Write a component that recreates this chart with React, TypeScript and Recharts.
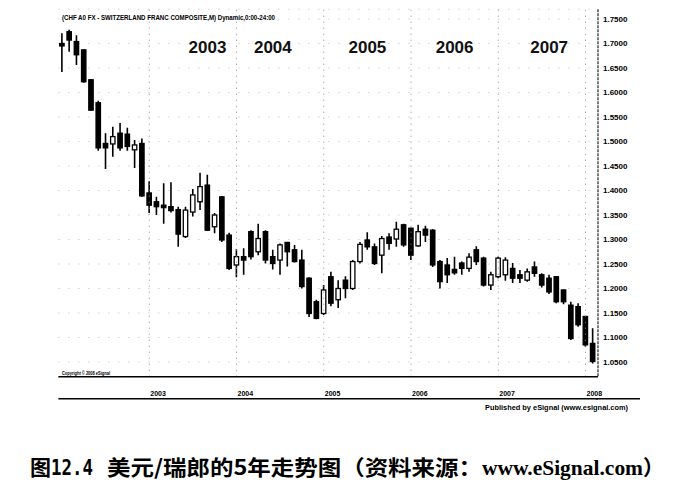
import React from 'react';
import {
  ComposedChart,
  Bar,
  XAxis,
  YAxis,
  CartesianGrid,
  ReferenceLine,
  ReferenceDot,
} from 'recharts';

const months = [
  '2002-01', '2002-02', '2002-03', '2002-04', '2002-05', '2002-06', '2002-07', '2002-08', '2002-09', '2002-10', '2002-11', '2002-12',
  '2003-01', '2003-02', '2003-03', '2003-04', '2003-05', '2003-06', '2003-07', '2003-08', '2003-09', '2003-10', '2003-11', '2003-12',
  '2004-01', '2004-02', '2004-03', '2004-04', '2004-05', '2004-06', '2004-07', '2004-08', '2004-09', '2004-10', '2004-11', '2004-12',
  '2005-01', '2005-02', '2005-03', '2005-04', '2005-05', '2005-06', '2005-07', '2005-08', '2005-09', '2005-10', '2005-11', '2005-12',
  '2006-01', '2006-02', '2006-03', '2006-04', '2006-05', '2006-06', '2006-07', '2006-08', '2006-09', '2006-10', '2006-11', '2006-12',
  '2007-01', '2007-02', '2007-03', '2007-04', '2007-05', '2007-06', '2007-07', '2007-08', '2007-09', '2007-10', '2007-11', '2007-12',
  '2008-01', '2008-02',
];

const opens = [
  1.700, 1.724, 1.704, 1.687, 1.626, 1.579, 1.496, 1.495, 1.517, 1.515, 1.483, 1.496,
  1.395, 1.377, 1.370, 1.367, 1.361, 1.306, 1.356, 1.377, 1.411, 1.326, 1.387, 1.309,
  1.248, 1.265, 1.316, 1.275, 1.316, 1.265, 1.258, 1.294, 1.279, 1.258, 1.221, 1.173,
  1.149, 1.224, 1.177, 1.217, 1.200, 1.255, 1.299, 1.285, 1.268, 1.305, 1.301, 1.330,
  1.323, 1.287, 1.321, 1.319, 1.255, 1.248, 1.239, 1.252, 1.241, 1.279, 1.262, 1.207,
  1.224, 1.228, 1.241, 1.228, 1.217, 1.244, 1.228, 1.221, 1.224, 1.197, 1.166, 1.163,
  1.143, 1.088,
];

const highs = [
  1.721, 1.728, 1.717, 1.688, 1.627, 1.583, 1.517, 1.530, 1.538, 1.528, 1.503, 1.506,
  1.419, 1.387, 1.415, 1.417, 1.367, 1.367, 1.403, 1.436, 1.432, 1.354, 1.389, 1.314,
  1.280, 1.282, 1.319, 1.332, 1.319, 1.279, 1.292, 1.295, 1.289, 1.279, 1.223, 1.177,
  1.207, 1.234, 1.217, 1.225, 1.258, 1.295, 1.315, 1.292, 1.307, 1.313, 1.336, 1.332,
  1.324, 1.330, 1.328, 1.321, 1.258, 1.262, 1.265, 1.255, 1.272, 1.286, 1.265, 1.234,
  1.265, 1.264, 1.252, 1.238, 1.241, 1.255, 1.231, 1.228, 1.225, 1.198, 1.173, 1.170,
  1.144, 1.119,
];

const lows = [
  1.642, 1.683, 1.656, 1.620, 1.563, 1.481, 1.444, 1.469, 1.481, 1.481, 1.446, 1.387,
  1.354, 1.350, 1.332, 1.355, 1.285, 1.303, 1.347, 1.360, 1.318, 1.313, 1.295, 1.238,
  1.223, 1.228, 1.259, 1.268, 1.251, 1.239, 1.228, 1.245, 1.253, 1.200, 1.142, 1.137,
  1.146, 1.164, 1.160, 1.180, 1.197, 1.251, 1.279, 1.248, 1.231, 1.279, 1.285, 1.285,
  1.258, 1.285, 1.295, 1.244, 1.200, 1.211, 1.228, 1.228, 1.234, 1.248, 1.204, 1.197,
  1.221, 1.216, 1.211, 1.211, 1.214, 1.224, 1.202, 1.189, 1.170, 1.168, 1.095, 1.122,
  1.081, 1.047,
];

const closes = [
  1.695, 1.707, 1.677, 1.622, 1.564, 1.487, 1.487, 1.510, 1.487, 1.490, 1.493, 1.389,
  1.370, 1.367, 1.365, 1.359, 1.311, 1.360, 1.391, 1.408, 1.319, 1.350, 1.299, 1.241,
  1.265, 1.258, 1.265, 1.302, 1.258, 1.251, 1.289, 1.275, 1.255, 1.204, 1.149, 1.139,
  1.197, 1.170, 1.200, 1.200, 1.255, 1.290, 1.285, 1.251, 1.302, 1.292, 1.321, 1.289,
  1.268, 1.316, 1.309, 1.248, 1.214, 1.228, 1.232, 1.241, 1.264, 1.255, 1.207, 1.228,
  1.262, 1.258, 1.221, 1.221, 1.234, 1.231, 1.207, 1.193, 1.173, 1.173, 1.098, 1.126,
  1.085, 1.051,
];

const priceTicks = [1.05, 1.1, 1.15, 1.2, 1.25, 1.3, 1.35, 1.4, 1.45, 1.5, 1.55, 1.6, 1.65, 1.7, 1.75];
const yearStarts = ['2003-01', '2004-01', '2005-01', '2006-01', '2007-01', '2008-01'];
const bannerYears = ['2003', '2004', '2005', '2006', '2007'];
const bannerAt = ['2003-09', '2004-06', '2005-07', '2006-07', '2007-08'];
const bannerLevel = 1.693;

const data = months.map((m, i) => ({
  month: m,
  range: [lows[i], highs[i]],
  open: opens[i],
  high: highs[i],
  low: lows[i],
  close: closes[i],
}));

const Candle = (props: any) => {
  const { x, y, width, height } = props;
  const p = props.payload ?? props;
  const { open, close, high, low } = p;
  const top = Math.min(y, y + height);
  const h = Math.abs(height);
  const ratio = high - low > 0 ? h / (high - low) : 0;
  const yOf = (v: number) => top + (high - v) * ratio;
  const cx = x + width / 2;
  const bTop = yOf(Math.max(open, close));
  const bBot = yOf(Math.min(open, close));
  const up = close > open;
  const bw = 4.4;
  return (
    <g>
      <line x1={cx} x2={cx} y1={top} y2={top + h} stroke="#000" strokeWidth={1.6} />
      <rect
        x={cx - bw / 2}
        y={bTop}
        width={bw}
        height={Math.max(1.2, bBot - bTop)}
        fill={up ? '#fff' : '#000'}
        stroke="#000"
        strokeWidth={1.3}
      />
    </g>
  );
};

const YearTick = (props: any) => {
  const { x, y, payload } = props;
  const v: string = payload?.value ?? '';
  if (!yearStarts.includes(v)) return <g />;
  return (
    <g>
      <text x={x + 1} y={y - 5} fontSize={7} fontWeight="bold" fill="#000" stroke="none" fontFamily="Liberation Sans, Arial, sans-serif" textAnchor="start">
        {v.slice(0, 4)}
      </text>
    </g>
  );
};

const CJK = 'Noto Sans CJK SC';

export default function App() {
  return (
    <div style={{ position: 'absolute', left: 0, top: 0, width: 691, height: 489, background: '#fff', fontFamily: 'Liberation Sans, Arial, sans-serif' }}>
      <ComposedChart
        width={691}
        height={489}
        data={data}
        margin={{ top: 9.2, right: 0, bottom: 70.3, left: 58.4 }}
        barCategoryGap={1}
      >
        <CartesianGrid vertical={false} stroke="#bbb" strokeDasharray="1 9" />
        <XAxis
          dataKey="month"
          xAxisId={0}
          height={22}
          tick={false}
          tickLine={false}
          axisLine={{ stroke: '#000', strokeWidth: 1.4 }}
          padding={{ left: 0, right: 1.6 }}
        />
        <XAxis
          dataKey="month"
          xAxisId="yr"
          height={20}
          interval={0}
          tickLine={false}
          tickSize={0}
          tick={<YearTick />}
          axisLine={{ stroke: '#000', strokeWidth: 1.4 }}
          padding={{ left: 0, right: 1.6 }}
        />
        <YAxis
          orientation="right"
          width={93}
          domain={[1.02, 1.77]}
          ticks={priceTicks}
          allowDataOverflow
          tickLine={false}
          tickSize={0}
          tickMargin={5}
          tickFormatter={(v: number) => v.toFixed(4)}
          tick={{ fontSize: 8, fontWeight: 'bold', fill: '#000' }}
          axisLine={{ stroke: '#222', strokeWidth: 1.2, strokeDasharray: '3 1' }}
        />
        {yearStarts.map((m) => (
          <ReferenceLine key={m} x={m} stroke="#888" strokeDasharray="1 5" />
        ))}
        {bannerYears.map((yr, i) => (
          <ReferenceDot
            key={yr}
            x={bannerAt[i]}
            y={bannerLevel}
            r={0}
            fill="none"
            stroke="none"
            label={{ value: yr, position: 'center', fontSize: 17, fontWeight: 'bold', fill: '#111' }}
          />
        ))}
        <Bar dataKey="range" shape={<Candle />} isAnimationActive={false} />
      </ComposedChart>
      <svg width={691} height={489} style={{ position: 'absolute', left: 0, top: 0, pointerEvents: 'none' }}>
        <text x={62} y={20} fontSize={7} fontWeight="bold" fill="#000" textLength={213} lengthAdjust="spacingAndGlyphs">
          (CHF A0 FX - SWITZERLAND FRANC COMPOSITE,M) Dynamic,0:00-24:00
        </text>
        <text x={62} y={375} fontSize={5} fontWeight="bold" fill="#000" textLength={48} lengthAdjust="spacingAndGlyphs">
          Copyright © 2008 eSignal
        </text>
        <line x1={596} x2={640} y1={398.7} y2={398.7} stroke="#000" strokeWidth={1.4} />
        <text x={485} y={410} fontSize={7.5} fontWeight="bold" fill="#000" textLength={143} lengthAdjust="spacingAndGlyphs">
          Published by eSignal (www.esignal.com)
        </text>
        <g fill="#000">
          <text x={30} y={474.5} fontSize={21} fontWeight="bold" fontFamily={CJK}>图</text>
          <text x={51} y={474.5} fontSize={21} fontWeight="bold" fontFamily="DejaVu Sans Mono" textLength={42} lengthAdjust="spacingAndGlyphs">12.4</text>
          <text x={107} y={474.5} fontSize={21} fontWeight="bold" fontFamily={CJK} textLength={375} lengthAdjust="spacingAndGlyphs">美元/瑞郎的5年走势图（资料来源：</text>
          <text x={482} y={474.5} fontSize={21} fontWeight="bold" fontFamily="Liberation Serif" textLength={161} lengthAdjust="spacingAndGlyphs">www.eSignal.com</text>
          <text x={643} y={474.5} fontSize={21} fontWeight="bold" fontFamily={CJK}>）</text>
        </g>
      </svg>
    </div>
  );
}
